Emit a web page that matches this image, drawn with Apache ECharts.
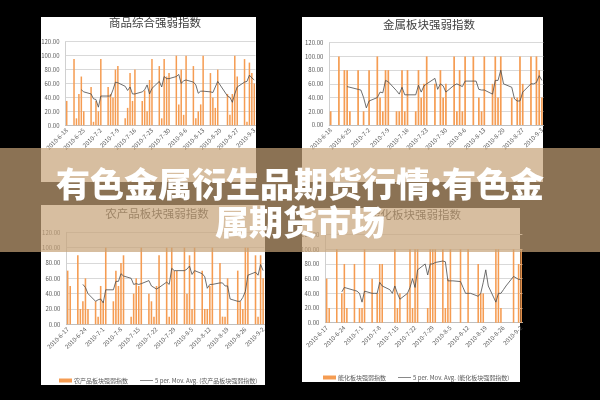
<!DOCTYPE html>
<html>
<head>
<meta charset="utf-8">
<script src="https://cdn.jsdelivr.net/npm/echarts@6/dist/echarts.min.js"></script>
<style>
html,body{margin:0;padding:0;background:#000;}
#c{width:600px;height:400px;}
</style>
</head>
<body>
<div id="c"></div>
<script>
// ---- titles ----
const title1 = '商品综合强弱指数';
const title2 = '金属板块强弱指数';
const title3 = '农产品板块强弱指数';
const title4 = '能化板块强弱指数';
const bannerLine1 = '有色金属衍生品期货行情:有色金';
const bannerLine2 = '属期货市场';

// ---- values per trading day (weekdays only) ----
// Panel 1: 2010-6-18 .. 2010-9-3
const bars1 = [35,
  95,10,45,70,20, 55,5,35,20,95, 55,45,40,80,85, 10,25,75,35,80,
  35,50,20,65,95, 85,10,95,70,75, 100,30,80,15,100, 85,10,20,30,100,
  75,40,25,80,0, 45,15,45,100,70, 95,5,90,75,60];
const avg1 = [null,
  null,null,null,51,48, 45,38,37,26,42, 42,42,51,62,61, 56,50,55,45,45,
  48,51,58,45,53, 63,55,70,67,67, 70,73,60,64,65, 62,58,46,49,49,
  48,47,55,63,null, 42,40,33,45,55, 62,63,72,68,65];
// Panel 2: 2010-6-18 .. 2010-9-3
const bars2 = [20,
  100,0,80,80,20, 80,0,20,0,80, 100,40,20,80,80, 20,20,80,20,80,
  20,80,40,60,100, 60,0,80,40,60, 100,20,80,20,100, 100,0,40,20,100,
  60,100,40,100,0, 40,0,40,100,60, 100,0,100,80,40];
const avg2 = [null,
  null,null,null,56,55, 52,51,40,25,35, 40,48,47,65,63, 50,45,55,44,44,
  44,58,48,57,60, 68,52,60,57,48, 58,60,58,56,64, 64,64,52,51,51,
  45,65,65,80,60, 55,38,35,35,48, 60,60,62,72,65];
// Panel 3: 2010-6-17 .. 2010-9-2
const bars3 = [70,50,
  90,20,30,60,20, 30,10,50,30,100, 30,70,50,80,90, 10,40,60,50,100,
  40,30,10,50,90, 100,10,100,70,70, 100,40,90,20,100, 70,20,20,50,100,
  80,10,10,60,0, 70,30,20,100,100, 90,10,90,60];
const avg3 = [null,null,
  null,null,52,48,40, 30,32,33,28,45, 45,56,56,66,63, 60,52,53,52,53,
  57,50,48,46,48, 55,52,73,70,70, 70,72,76,65,70, 66,62,47,52,52,
  54,54,50,50,33, 30,30,35,43,64, 68,64,78,70];
// Panel 4: 2010-6-17 .. 2010-9-2
const bars4 = [60,20,
  100,0,40,80,20, 80,0,20,20,100, 60,0,40,80,80, 0,0,100,20,40,
  40,100,20,100,100, 0,20,100,100,100, 100,20,60,100,0, 100,0,0,100,0,
  80,40,40,0,0, 100,100,20,0,0, 100,0,80,100];
const avg4 = [null,null,
  null,null,42,48,47, 44,43,40,28,43, 40,40,40,55,50, 45,40,50,40,32,
  40,48,60,48,72, 80,65,80,80,82, 84,83,57,57,57, 56,48,40,40,40,
  36,40,55,72,50, 28,40,40,45,50, 63,61,59,59];

// y-axis ticks
const yMin = 0, yMax = 120, yStep = 20;

// ---- build daily category axes (weekends empty) ----
function days(y, m, d, n) {
  const out = [];
  for (let i = 0; i < n; i++) {
    const dt = new Date(Date.UTC(y, m - 1, d + i));
    out.push({label: dt.getUTCFullYear() + '-' + (dt.getUTCMonth() + 1) + '-' + dt.getUTCDate(),
              weekend: dt.getUTCDay() === 0 || dt.getUTCDay() === 6});
  }
  return out;
}
function spread(dayList, vals) {
  let k = 0;
  return dayList.map(o => o.weekend ? null : vals[k++]);
}
const daysA = days(2010, 6, 18, 78);
const daysB = days(2010, 6, 17, 78);
const catsA = daysA.map(o => o.label);
const catsB = daysB.map(o => o.label);

const font = '"Noto Sans CJK SC", "Noto Sans", sans-serif';
const grey = '#595959';
const barColor = '#F59C52';
const lineColor = '#4a4a4a';

const grids = [
  {left: 65.5, top: 41.7, width: 190, height: 83.6},
  {left: 329.3, top: 42.7, width: 214, height: 82.3},
  {left: 66.4, top: 232.3, width: 198, height: 92},
  {left: 325.4, top: 234.6, width: 197, height: 88.1}
];
const cats = [catsA, catsA, catsB, catsB];
const dayLists = [daysA, daysA, daysB, daysB];
const barVals = [bars1, bars2, bars3, bars4];
const avgVals = [avg1, avg2, avg3, avg4];
const titles = [title1, title2, title3, title4];
const titlePos = [[155, 16.5], [429, 18.5], [157, 207.5], [415, 208.5]];

const xAxis = cats.map((c, i) => ({
  type: 'category', gridIndex: i, data: c, boundaryGap: true,
  axisTick: {show: false},
  axisLine: {lineStyle: {color: '#BFBFBF', width: 1}},
  axisLabel: {interval: 6, rotate: 45, fontSize: 6, color: grey, margin: 4, fontFamily: font}
}));
const yAxis = cats.map((c, i) => ({
  type: 'value', gridIndex: i, min: yMin, max: yMax, interval: yStep,
  axisLine: {show: true, lineStyle: {color: '#D0D0D0'}},
  axisTick: {show: false},
  splitLine: {lineStyle: {color: '#D9D9D9', width: 1}},
  axisLabel: {fontSize: 6, color: grey, margin: 6, fontFamily: font, formatter: v => v.toFixed(2)}
}));
const series = [];
for (let i = 0; i < 4; i++) {
  const name = titles[i];
  series.push({
    type: 'bar', name: name, xAxisIndex: i, yAxisIndex: i,
    data: spread(dayLists[i], barVals[i]), barWidth: '62%',
    itemStyle: {color: barColor}, animation: false
  });
  series.push({
    type: 'line', name: '5 per. Mov. Avg. (' + name + ')', xAxisIndex: i, yAxisIndex: i,
    data: spread(dayLists[i], avgVals[i]), connectNulls: true, symbol: 'none',
    lineStyle: {color: lineColor, width: 0.8}, itemStyle: {color: lineColor}, animation: false
  });
}

const lineIcon = 'path://M0,0 L40,0 L40,2 L0,2 Z';
function legendFor(t, left, top) {
  return {
    data: [{name: t, icon: 'rect'}, {name: '5 per. Mov. Avg. (' + t + ')', icon: lineIcon, itemStyle: {color: lineColor}}],
    left: left, top: top, itemWidth: 13, itemHeight: 4, itemGap: 12, padding: 0,
    textStyle: {fontSize: 6, color: grey, fontFamily: font, padding: [0, 0, 0, -3]}
  };
}

const bannerStyle = {fill: '#fff', fontSize: 34, fontWeight: 900, fontFamily: font,
  textAlign: 'center', textVerticalAlign: 'middle', align: 'center', verticalAlign: 'middle',
  shadowBlur: 3, shadowColor: 'rgba(0,0,0,0.35)'};

const option = {
  backgroundColor: '#000',
  animation: false,
  title: titles.map((t, i) => ({
    text: t, left: titlePos[i][0], top: titlePos[i][1], textAlign: 'center', padding: 0,
    textStyle: {fontSize: 11.5, fontWeight: 'normal', color: '#404040', fontFamily: font}
  })),
  legend: [legendFor(title3, 59, 377.5), legendFor(title4, 323, 374.5)],
  grid: grids,
  xAxis: xAxis,
  yAxis: yAxis,
  series: series,
  graphic: [
    {type: 'rect', z: -10, shape: {x: 41, y: 17, width: 215, height: 165}, style: {fill: '#fff'}},
    {type: 'rect', z: -10, shape: {x: 302, y: 17, width: 241, height: 165}, style: {fill: '#fff'}},
    {type: 'rect', z: -10, shape: {x: 41, y: 205, width: 224, height: 180}, style: {fill: '#fff'}},
    {type: 'rect', z: -10, shape: {x: 302, y: 208, width: 218, height: 174}, style: {fill: '#fff'}},
    {type: 'rect', z: 100, shape: {x: 0, y: 148, width: 600, height: 104}, style: {fill: 'rgba(198,162,120,0.7)'}},
    {type: 'text', z: 101, x: 300, y: 184, style: Object.assign({text: bannerLine1}, bannerStyle)},
    {type: 'text', z: 101, x: 300, y: 222, style: Object.assign({text: bannerLine2}, bannerStyle)}
  ]
};
const chart = echarts.init(document.getElementById('c'), null, {renderer: 'canvas'});
chart.setOption(option);
</script>
</body>
</html>
